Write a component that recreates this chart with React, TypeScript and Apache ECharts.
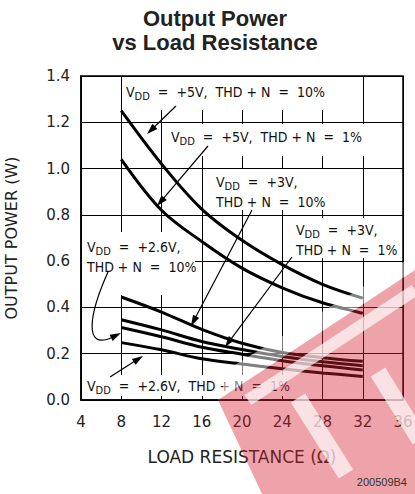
import React, { useEffect, useRef } from "react";
import * as echarts from "echarts";

const resistance = [8, 12, 16, 20, 24, 28, 32];
const p5v10 = [1.25, 1.02, 0.825, 0.69, 0.585, 0.5, 0.44];
const p5v1 = [1.04, 0.82, 0.685, 0.57, 0.485, 0.42, 0.375];
const p3v10 = [0.445, 0.38, 0.305, 0.245, 0.205, 0.183, 0.167];
const p3v1 = [0.347, 0.303, 0.253, 0.218, 0.188, 0.165, 0.148];
const p26v10 = [0.313, 0.273, 0.228, 0.198, 0.17, 0.148, 0.13];
const p26v1 = [0.248, 0.217, 0.178, 0.156, 0.135, 0.117, 0.102];
const seriesNames = [
  "VDD=+5V, THD+N=10%",
  "VDD=+5V, THD+N=1%",
  "VDD=+3V, THD+N=10%",
  "VDD=+3V, THD+N=1%",
  "VDD=+2.6V, THD+N=10%",
  "VDD=+2.6V, THD+N=1%",
];
const seriesValues = [p5v10, p5v1, p3v10, p3v1, p26v10, p26v1];
const xTicks = { min: 4, max: 36, interval: 4 };
const yTicks = { min: 0, max: 1.4, interval: 0.2 };

const FONT = "'DejaVu Sans Condensed', 'DejaVu Sans', sans-serif";
const FONT_W = "'DejaVu Sans', sans-serif";

function arrow(x1: number, y1: number, x2: number, y2: number) {
  const dx = x2 - x1, dy = y2 - y1;
  const L = Math.hypot(dx, dy);
  const ux = dx / L, uy = dy / L;
  const hl = 11, hw = 3.5;
  const bx = x2 - ux * hl, by = y2 - uy * hl;
  return [
    { type: "line", z: 6, silent: true, shape: { x1, y1, x2: bx + ux * 2, y2: by + uy * 2 }, style: { stroke: "#000", lineWidth: 1.2 } },
    { type: "polygon", z: 6, silent: true, shape: { points: [[x2, y2], [bx - uy * hw, by + ux * hw], [bx + uy * hw, by - ux * hw]] }, style: { fill: "#000" } },
  ];
}

function curvedArrow(x1: number, y1: number, c1x: number, c1y: number, c2x: number, c2y: number, x2: number, y2: number) {
  const dx = x2 - c2x, dy = y2 - c2y;
  const L = Math.hypot(dx, dy);
  const ux = dx / L, uy = dy / L;
  const hl = 11, hw = 3.5;
  const bx = x2 - ux * hl, by = y2 - uy * hl;
  return [
    { type: "bezierCurve", z: 6, silent: true, shape: { x1, y1, cpx1: c1x, cpy1: c1y, cpx2: c2x, cpy2: c2y, x2: bx + ux * 2, y2: by + uy * 2 }, style: { stroke: "#000", lineWidth: 1.2, fill: "none" } },
    { type: "polygon", z: 6, silent: true, shape: { points: [[x2, y2], [bx - uy * hw, by + ux * hw], [bx + uy * hw, by - ux * hw]] }, style: { fill: "#000" } },
  ];
}

const rich = {
  n: { fontFamily: FONT, fontSize: 14, color: "#111", lineHeight: 20 },
  s: { fontFamily: FONT, fontSize: 11, color: "#111", padding: [8, 0, 0, 0], lineHeight: 20 },
};

function label(x: number, y: number, lines: string[]) {
  return {
    type: "text",
    z: 5,
    silent: true,
    x,
    y,
    style: { text: lines.join("\n"), rich, fill: "#111" },
  };
}

function mask(x: number, y: number, w: number, h: number) {
  return { type: "rect", z: 1, silent: true, shape: { x, y, width: w, height: h }, style: { fill: "#fff" } };
}

function bar(x1: number, y1: number, x2: number, y2: number, w: number, fill: string) {
  const dx = x2 - x1, dy = y2 - y1;
  const L = Math.hypot(dx, dy);
  const nx = (-dy / L) * (w / 2), ny = (dx / L) * (w / 2);
  return {
    type: "polygon", z: 21, silent: true,
    shape: { points: [[x1 + nx, y1 + ny], [x2 + nx, y2 + ny], [x2 - nx, y2 - ny], [x1 - nx, y1 - ny]] },
    style: { fill },
  };
}

export default function App() {
  const ref = useRef<HTMLDivElement>(null);
  useEffect(() => {
    if (!ref.current) return;
    const chart = echarts.init(ref.current, null, { renderer: "svg" });
    const WHITE = "rgba(255,255,255,0.68)";
    const graphics: any[] = [
      mask(122, 77, 214, 33),
      mask(165, 124, 212, 32),
      mask(211, 169, 118, 41),
      mask(291, 218, 104, 40),
      mask(82, 232, 113, 63),
      mask(84, 375, 200, 21),
      label(126, 82, ["{n|V}{s|DD}{n|  =  +5V,  THD + N  =  10%}"]),
      label(171, 127, ["{n|V}{s|DD}{n|  =  +5V,  THD + N  =  1%}"]),
      label(216, 172, ["{n|V}{s|DD}{n|  =  +3V,}", "{n|THD + N  =  10%}"]),
      label(296, 220, ["{n|V}{s|DD}{n|  =  +3V,}", "{n|THD + N  =  1%}"]),
      label(87, 237, ["{n|V}{s|DD}{n|  =  +2.6V,}", "{n|THD + N  =  10%}"]),
      label(87, 376, ["{n|V}{s|DD}{n|  =  +2.6V,  THD + N  =  1%}"]),
      ...arrow(176, 106, 147, 134),
      ...arrow(208, 146, 157, 206),
      ...arrow(252, 210, 191, 326),
      ...arrow(292, 257, 225, 347),
      ...curvedArrow(108, 272, 90, 312, 82, 352, 121, 333),
      ...arrow(110, 377, 143, 356),
      // watermark
      { type: "polygon", z: 20, silent: true, shape: { points: [[218, 400], [415, 270], [415, 255], [230, 368]] }, style: { fill: "rgba(255,255,255,0.5)" } },
      { type: "polygon", z: 20, silent: true, shape: { points: [[218, 400], [415, 270], [415, 494], [262, 494]] }, style: { fill: "rgba(214,36,52,0.42)" } },
      bar(248, 400, 415, 290, 12, WHITE),
      bar(298, 398, 346, 474, 17, WHITE),
      bar(378, 372, 420, 440, 17, WHITE),
      { type: "text", z: 22, silent: true, x: 407, y: 476, style: { text: "200509B4", fill: "#333", font: "11px 'Liberation Sans', Arial, sans-serif", align: "right" } },
    ];
    chart.setOption({
      animation: false,
      backgroundColor: "#fff",
      title: {
        text: "Output Power\nvs Load Resistance",
        left: 210,
        textAlign: "center",
        top: 1,
        textStyle: { fontFamily: "'Liberation Sans', Arial, sans-serif", fontWeight: "bold", fontSize: 22, lineHeight: 24, color: "#222" },
      },
      grid: { left: 81, top: 76, width: 322, height: 324, show: true, borderColor: "#000", borderWidth: 1.5, containLabel: false, outerBoundsMode: "none" },
      xAxis: {
        type: "value",
        min: xTicks.min,
        max: xTicks.max,
        interval: xTicks.interval,
        name: "LOAD RESISTANCE (Ω)",
        nameLocation: "middle",
        nameGap: 48,
        nameTextStyle: { fontFamily: FONT_W, fontSize: 17, color: "#222" },
        axisLine: { show: true, lineStyle: { color: "#000", width: 1.5 } },
        axisTick: { show: false },
        splitLine: { show: true, lineStyle: { color: "#000", width: 1 } },
        axisLabel: { fontFamily: FONT_W, fontSize: 15, color: "#222", margin: 14 },
      },
      yAxis: {
        type: "value",
        min: yTicks.min,
        max: yTicks.max,
        interval: yTicks.interval,
        name: "OUTPUT POWER (W)",
        nameLocation: "middle",
        nameRotate: 90,
        nameGap: 62,
        nameTextStyle: { fontFamily: FONT_W, fontSize: 16, color: "#222" },
        axisLine: { show: true, lineStyle: { color: "#000", width: 1.5 } },
        axisTick: { show: false },
        splitLine: { show: true, lineStyle: { color: "#000", width: 1 } },
        axisLabel: { fontFamily: FONT_W, fontSize: 15, color: "#222", margin: 11, formatter: (v: number) => v.toFixed(1) },
      },
      series: seriesValues.map((vals, i) => ({
        name: seriesNames[i],
        type: "line",
        smooth: 0.35,
        symbol: "none",
        z: 3,
        lineStyle: { color: "#000", width: 3 },
        data: resistance.map((r, j) => [r, vals[j]]),
      })),
      graphic: { elements: graphics },
    });
    return () => chart.dispose();
  }, []);
  return <div ref={ref} style={{ position: "fixed", left: 0, top: 0, width: 415, height: 494, background: "#fff" }} />;
}
